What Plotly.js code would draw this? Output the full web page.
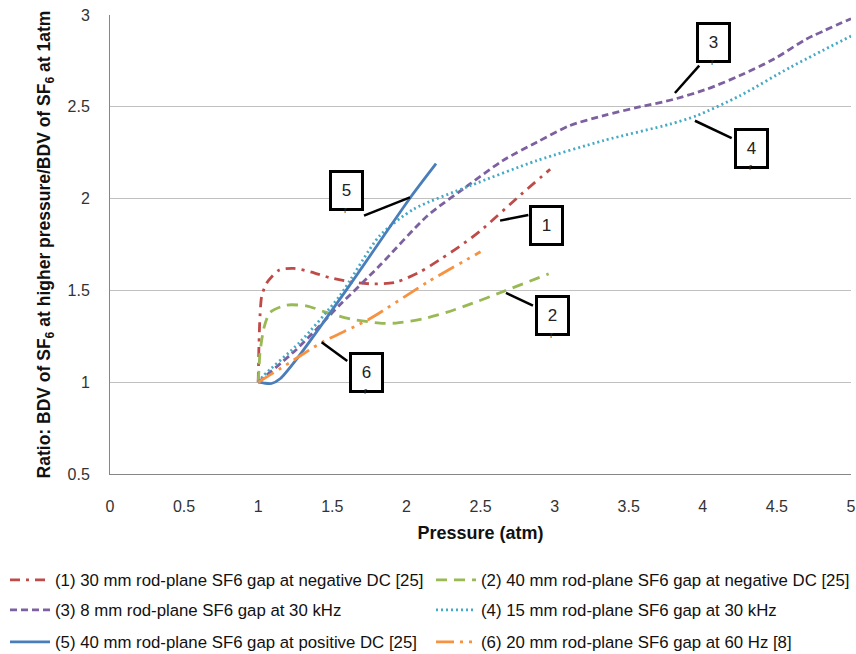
<!DOCTYPE html>
<html>
<head>
<meta charset="utf-8">
<script src="https://cdn.plot.ly/plotly-3.0.1.min.js"></script>
<style>html,body{margin:0;padding:0;background:#fff;}#chart{width:856px;height:654px;}</style>
</head>
<body>
<div id="chart"></div>
<script>
// ---- data ----
const names = [
  "(1) 30 mm rod-plane SF6 gap at negative DC [25]",
  "(2) 40 mm rod-plane SF6 gap at negative DC [25]",
  "(3) 8 mm rod-plane SF6 gap at 30 kHz",
  "(4) 15 mm rod-plane SF6 gap at 30 kHz",
  "(5) 40 mm rod-plane SF6 gap at positive DC [25]",
  "(6) 20 mm rod-plane SF6 gap at 60 Hz [8]"
];
const s1x = [1, 1.005, 1.012, 1.024, 1.057, 1.14, 1.24, 1.36, 1.48, 1.64, 1.78, 1.93, 2.09, 2.23, 2.36, 2.5, 2.77, 2.97];
const s1y = [1, 1.2, 1.36, 1.47, 1.54, 1.61, 1.62, 1.60, 1.57, 1.545, 1.535, 1.545, 1.6, 1.67, 1.74, 1.825, 2.02, 2.16];
const s2x = [1, 1.006, 1.012, 1.04, 1.08, 1.19, 1.33, 1.46, 1.62, 1.82, 1.93, 2.11, 2.27, 2.43, 2.65, 2.96];
const s2y = [1, 1.08, 1.16, 1.3, 1.38, 1.42, 1.415, 1.38, 1.345, 1.322, 1.322, 1.345, 1.38, 1.425, 1.493, 1.59];
const s3x = [1, 1.26, 1.55, 1.82, 2.14, 2.43, 2.65, 2.88, 3.1, 3.33, 3.55, 3.8, 4.03, 4.25, 4.48, 4.7, 5.0];
const s3y = [1, 1.18, 1.42, 1.635, 1.905, 2.08, 2.207, 2.307, 2.397, 2.452, 2.495, 2.54, 2.597, 2.67, 2.76, 2.869, 2.98];
const s4x = [1, 1.035, 1.28, 1.55, 1.82, 2.05, 2.43, 2.88, 3.33, 3.78, 3.96, 4.25, 4.59, 5.0];
const s4y = [1, 1.035, 1.217, 1.47, 1.798, 1.943, 2.07, 2.207, 2.316, 2.406, 2.452, 2.56, 2.715, 2.885];
const s5x = [1, 1.04, 1.09, 1.15, 1.26, 1.6, 2.02, 2.2];
const s5y = [1, 0.995, 0.993, 1.02, 1.126, 1.508, 1.998, 2.19];
const s6x = [1, 1.18, 1.43, 1.75, 2.14, 2.5];
const s6y = [1, 1.09, 1.217, 1.344, 1.544, 1.71];
const xTicks = [0, 0.5, 1, 1.5, 2, 2.5, 3, 3.5, 4, 4.5, 5];
const yTicks = [0.5, 1, 1.5, 2, 2.5, 3];
const calloutLabels = ["1", "2", "3", "4", "5", "6"];

// ---- styling ----
const FONT = "Liberation Sans, Arial, sans-serif";
const colors = ["#BE4B48", "#98B954", "#7D60A0", "#46AAC5", "#4A7EBB", "#F69240"];
const dashes = ["10px,6px,3px,6px", "11px,7px", "7px,4px", "2px,3px", "solid", "18px,6px,3px,6px,3px,6px"];
const xs = [s1x, s2x, s3x, s4x, s5x, s6x];
const ys = [s1y, s2y, s3y, s4y, s5y, s6y];
const legendIds = ["legend", "legend2", "legend3", "legend4", "legend5", "legend6"];

const traces = xs.map((x, i) => ({
  x: x, y: ys[i], type: "scatter", mode: "lines", name: names[i],
  line: {color: colors[i], width: 2.8, dash: dashes[i], shape: "spline", smoothing: 0.7},
  legend: legendIds[i]
}));

// callout box positions (data coords of box centre) and leader lines
const boxes = [
  {x: 2.944, y: 1.844, r: false},
  {x: 2.984, y: 1.351, r: true},
  {x: 4.069, y: 2.837, r: true},
  {x: 4.327, y: 2.263, r: true},
  {x: 1.594, y: 2.032, r: true},
  {x: 1.732, y: 1.042, r: true}
];
const leaders = [
  [2.632, 1.880, 2.823, 1.911],
  [2.672, 1.486, 2.854, 1.417],
  [3.812, 2.575, 3.976, 2.724],
  [3.947, 2.424, 4.195, 2.330],
  [2.024, 2.007, 1.714, 1.907],
  [1.428, 1.217, 1.601, 1.115]
];

const annotations = boxes.map((b, i) => ({
  x: b.x, y: b.y, xref: "x", yref: "y", showarrow: false,
  text: calloutLabels[i], yshift: 2,
  font: {family: FONT, size: 17, color: "#222"},
  width: 29, height: 35, borderpad: 0, bordercolor: "#000", borderwidth: 3,
  bgcolor: "#fff", align: "center", valign: "middle"
}));
boxes.forEach(b => {
  if (b.r) annotations.push({
    x: b.x, y: b.y, xref: "x", yref: "y", showarrow: false, text: "r",
    yshift: -17, xshift: -1, font: {family: FONT, size: 9, color: "#333"}
  });
});

const shapes = leaders.map(l => ({
  type: "line", xref: "x", yref: "y", x0: l[0], y0: l[1], x1: l[2], y1: l[3],
  line: {color: "#000", width: 2.5}, layer: "above"
}));

// legend placement: two columns, three rows
const legCols = [-0.1417, 0.4332];
const legRows = [-0.2309, -0.2963, -0.366];
const legendBase = {
  orientation: "v", xanchor: "left", yanchor: "middle",
  font: {family: FONT, size: 16.8, color: "#111"},
  itemwidth: 40, bgcolor: "rgba(0,0,0,0)"
};

const layout = {
  width: 856, height: 654,
  margin: {l: 110, r: 5, t: 15, b: 180, autoexpand: false},
  paper_bgcolor: "#fff", plot_bgcolor: "#fff",
  font: {family: FONT, size: 14, color: "#333"},
  showlegend: true,
  xaxis: {
    range: [0, 5], tickvals: xTicks, ticktext: xTicks.map(String),
    showgrid: false, zeroline: false, showline: true, linecolor: "#868686", linewidth: 1,
    ticks: "", ticklabelstandoff: 18,
    tickfont: {family: FONT, size: 16, color: "#333"},
    title: {text: "Pressure (atm)", font: {family: FONT, size: 18, color: "#111", weight: "bold"}, standoff: 12}
  },
  yaxis: {
    range: [0.5, 3], tickvals: yTicks, ticktext: yTicks.map(String),
    showgrid: true, gridcolor: "#c0c0c0", gridwidth: 1,
    zeroline: false, showline: true, linecolor: "#868686", linewidth: 1,
    ticks: "", ticklabelstandoff: 16,
    tickfont: {family: FONT, size: 16, color: "#333"},
    title: {text: "Ratio: BDV of SF<sub>6</sub> at higher pressure/BDV of SF<sub>6</sub> at 1atm",
            font: {family: FONT, size: 17.5, color: "#111", weight: "bold"}, standoff: 12}
  },
  annotations: annotations,
  shapes: shapes
};
legendIds.forEach((id, i) => {
  layout[id] = Object.assign({}, legendBase, {x: legCols[i % 2], y: legRows[Math.floor(i / 2)]});
});

Plotly.newPlot("chart", traces, layout, {displayModeBar: false, staticPlot: true});
</script>
</body>
</html>
